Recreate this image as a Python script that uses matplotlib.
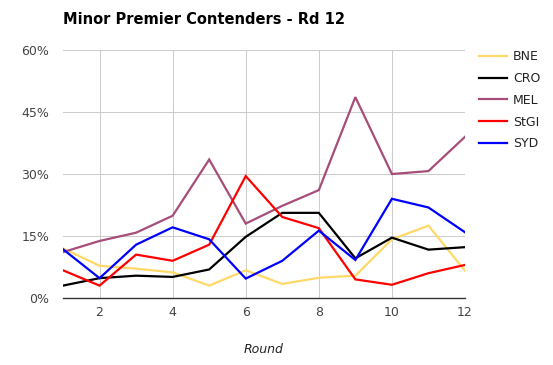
import matplotlib
matplotlib.use("Agg")
import matplotlib.pyplot as plt
from matplotlib.ticker import FuncFormatter

rounds = list(range(1, 13))
bne = [12.0, 7.8, 7.1, 6.2, 3.0, 6.7, 3.4, 4.9, 5.4, 14.2, 17.5, 6.6]
cro = [3.0, 4.8, 5.4, 5.1, 6.9, 14.8, 20.6, 20.6, 9.6, 14.6, 11.7, 12.3]
mel = [11.1, 13.8, 15.8, 19.9, 33.5, 18.0, 22.3, 26.1, 48.6, 30.0, 30.7, 39.0]
stgi = [6.7, 3.0, 10.5, 9.0, 12.9, 29.5, 19.6, 16.9, 4.5, 3.2, 6.0, 8.0]
syd = [11.8, 4.8, 12.9, 17.1, 14.2, 4.7, 9.0, 16.3, 9.2, 24.0, 21.9, 15.9]

series = [("BNE", bne, "#ffd966"), ("CRO", cro, "#000000"), ("MEL", mel, "#a64d79"),
          ("StGI", stgi, "#ff0000"), ("SYD", syd, "#0000ff")]
yticks = [0, 15, 30, 45, 60]
xticks = [2, 4, 6, 8, 10, 12]

W, H = 553, 365
fig = plt.figure(figsize=(W / 100, H / 100), dpi=100)
ax = fig.add_axes([63 / W, 1 - 298 / H, (465 - 63) / W, (298 - 50) / H])

for name, vals, col in series:
    ax.plot(rounds, vals, color=col, lw=1.6, label=name, solid_joinstyle="miter")

ax.set_xlim(1, 12)
ax.set_ylim(0, 60)
ax.set_xticks(xticks)
ax.set_yticks(yticks)
ax.yaxis.set_major_formatter(FuncFormatter(lambda v, p: f"{int(v)}%"))
ax.grid(True, color="#cccccc", lw=0.75)
ax.set_axisbelow(True)
for s in ["left", "right", "top"]:
    ax.spines[s].set_visible(False)
ax.spines["bottom"].set_color("#333333")
ax.spines["bottom"].set_linewidth(1.0)
ax.spines["bottom"].set_zorder(5)
ax.tick_params(length=0, labelsize=9, colors="#444444")
ax.tick_params(axis="x", pad=6)
ax.tick_params(axis="y", pad=10)

ax.set_xlabel("Round", fontsize=9, style="italic", color="#222222", labelpad=17)
fig.text(63 / W, 1 - 20 / H, "Minor Premier Contenders - Rd 12", fontsize=10.5,
         fontweight="bold", color="#000000", ha="left", va="center")

leg = fig.legend(loc="upper left", bbox_to_anchor=(468 / W, 1 - 39 / H), frameon=False,
                 fontsize=9, handlelength=2.2, labelspacing=0.7, handletextpad=0.5)
for t in leg.get_texts():
    t.set_color("#222222")

fig.savefig("out.png", dpi=100)
